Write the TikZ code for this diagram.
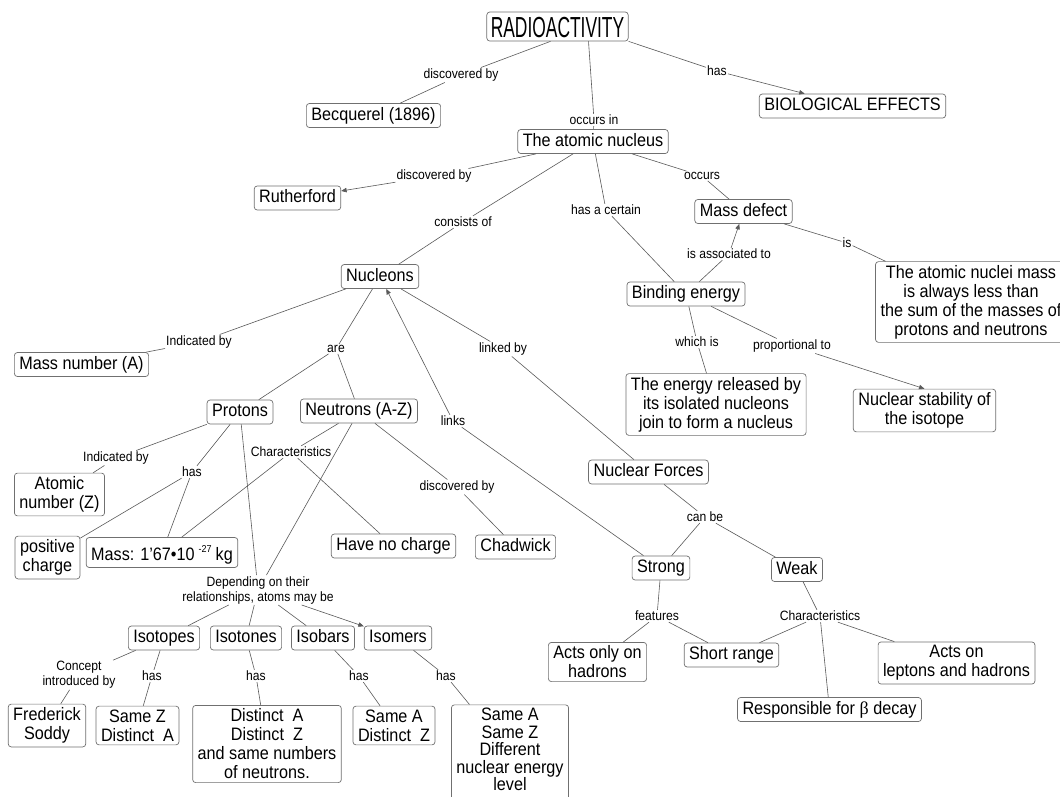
\documentclass[tikz,border=0pt]{standalone}
\usepackage{fontspec}
\setmainfont[FakeStretch=0.9]{Liberation Sans}
\newfontfamily\titlefont[FakeStretch=0.6]{Liberation Sans}
\newfontfamily\greekfont{Liberation Serif}
\usetikzlibrary{arrows.meta}
\definecolor{conceptgray}{HTML}{707070}
\definecolor{linkgray}{HTML}{5A5A5A}
\begin{document}
\begin{tikzpicture}[x=1pt,y=-1pt,
  concept/.style={draw=conceptgray, line width=0.7pt, rounded corners=3pt, fill=white,
    inner xsep=5pt, inner ysep=3.5pt, align=center, font=\fontsize{18}{19}\selectfont},
  oneline/.style={concept, text height=13pt, text depth=4pt},
  maintitle/.style={concept, inner xsep=4pt, inner ysep=4pt, text height=21pt, text depth=0pt,
    font=\titlefont\fontsize{29}{29}\selectfont},
  linkword/.style={inner sep=1pt, align=center, font=\fontsize{13.5}{15}\selectfont},
  link/.style={draw=linkgray, line width=0.6pt},
  tip/.style={-{Triangle[length=5.5pt,width=4.5pt]}}
]
\fill[white] (0,0) rectangle (1060,796);
\useasboundingbox (0,0) rectangle (1060,796);

% concepts
\node[maintitle] (radio) at (557.5,26.5) {RADIOACTIVITY};
\node[oneline] (becq) at (373.5,115.5) {Becquerel (1896)};
\node[oneline] (bio) at (852.5,106) {BIOLOGICAL EFFECTS};
\node[oneline] (nucleus) at (593,141.5) {The atomic nucleus};
\node[oneline] (ruth) at (297.5,198) {Rutherford};
\node[oneline] (massdef) at (743.5,211.5) {Mass defect};
\node[oneline] (nucleons) at (380,276.5) {Nucleons};
\node[oneline] (binding) at (686,294) {Binding energy};
\node[concept] (massless) at (971,302) {The atomic nuclei mass\\is always less than\\the sum of the masses of\\protons and neutrons};
\node[oneline] (massnum) at (81.5,364.5) {Mass number (A)};
\node[oneline] (protons) at (240,412) {Protons};
\node[oneline] (neutrons) at (359,411) {Neutrons (A-Z)};
\node[concept] (released) at (716,404.5) {The energy released by\\its isolated nucleons\\join to form a nucleus};
\node[concept] (stability) at (924.5,410.5) {Nuclear stability of\\the isotope};
\node[concept] (atomicnum) at (59.5,494.5) {Atomic\\number (Z)};
\node[oneline] (forces) at (648.5,472) {Nuclear Forces};
\node[concept] (positive) at (47.5,557.5) {positive\\charge};
\node[concept, text height=19pt, text depth=4pt] (mass) at (162,552.5)
  {Mass: 1’67•10\hspace{4pt}\raisebox{8pt}{\fontsize{10}{10}\selectfont -27}\hspace{4pt}kg};
\node[oneline] (nocharge) at (393.5,546) {Have no charge};
\node[oneline] (chadwick) at (515.5,547) {Chadwick};
\node[oneline] (strong) at (661,568) {Strong};
\node[oneline] (weak) at (797,569.5) {Weak};
\node[oneline] (isotopes) at (164,638) {Isotopes};
\node[oneline] (isotones) at (246,638) {Isotones};
\node[oneline] (isobars) at (323,638) {Isobars};
\node[oneline] (isomers) at (398,638) {Isomers};
\node[concept] (hadrons) at (597.5,662) {Acts only on\\hadrons};
\node[oneline] (short) at (731.5,655) {Short range};
\node[concept] (leptons) at (956.5,663) {Acts on\\leptons and hadrons};
\node[oneline] (beta) at (829.5,709.5) {Responsible for {\greekfont β} decay};
\node[concept] (soddy) at (47,725.5) {Frederick\\Soddy};
\node[concept] (samez) at (137.5,725.5) {Same Z\\Distinct\ \ A};
\node[concept] (distinct) at (267,744) {Distinct\ \ A\\Distinct\ \ Z\\and same numbers\\of neutrons.};
\node[concept] (samea) at (394,725.5) {Same A\\Distinct\ \ Z};
\node[concept, font=\fontsize{18}{17.5}\selectfont, anchor=north] (isomerbox) at (510,704.5)
  {Same A\\Same Z\\Different\\nuclear energy\\level\rule[-8pt]{0pt}{8pt}};

% linking phrases
\node[linkword] (l1) at (461,75) {discovered by};
\node[linkword] (l2) at (594,120) {occurs in};
\node[linkword] (l3) at (717,71) {has};
\node[linkword] (l4) at (434,176) {discovered by};
\node[linkword] (l5) at (463,222) {consists of};
\node[linkword] (l6) at (606,210) {has a certain};
\node[linkword] (l7) at (702,176) {occurs};
\node[linkword] (l8) at (729,254) {is associated to};
\node[linkword] (l9) at (847,243) {is};
\node[linkword] (l10) at (697,342) {which is};
\node[linkword] (l11) at (792,346) {proportional to};
\node[linkword] (l12) at (199,342) {Indicated by};
\node[linkword] (l13) at (336,349) {are};
\node[linkword] (l14) at (453,421) {links};
\node[linkword] (l15) at (503,349) {linked by};
\node[linkword] (l16) at (116,458) {Indicated by};
\node[linkword] (l17) at (192,472) {has};
\node[linkword] (l18) at (291,452) {Characteristics};
\node[linkword] (l19) at (457,487) {discovered by};
\node[linkword] (l20) at (258,590) {Depending on their\\relationships, atoms may be};
\node[linkword] (l21) at (79,675) {Concept\\introduced by};
\node[linkword] (l22) at (152,676) {has};
\node[linkword] (l23) at (256,676) {has};
\node[linkword] (l24) at (359,676) {has};
\node[linkword] (l25) at (446,676) {has};
\node[linkword] (l26) at (705,517) {can be};
\node[linkword] (l27) at (657,616) {features};
\node[linkword] (l28) at (820,616) {Characteristics};

% connectors
\draw[link] ([xshift=-7pt]radio.south) -- (l1) -- (becq);
\draw[link] ([xshift=31pt]radio.south) -- (l2) -- (nucleus);
\draw[link,tip] (radio.south east) -- (l3) -- (bio);
\draw[link,tip] (nucleus) -- (l4) -- (ruth);
\draw[link] (nucleus) -- (l5) -- (nucleons);
\draw[link] (nucleus) -- (l6) -- (binding);
\draw[link] (nucleus) -- (l7) -- (massdef);
\draw[link,tip] (binding) -- (l8) -- (massdef);
\draw[link] (massdef) -- (l9) -- (massless);
\draw[link] (binding) -- (l10) -- (released);
\draw[link,tip] (binding) -- (l11) -- (stability.north);
\draw[link] (nucleons) -- (l12) -- (massnum);
\draw[link] (nucleons) -- (l13) -- (protons);
\draw[link] (l13) -- (neutrons);
\draw[link,tip] (strong) -- (l14) -- (nucleons);
\draw[link] (nucleons) -- (l15) -- (forces);
\draw[link] (protons) -- (l16) -- (atomicnum);
\draw[link] (protons) -- (l17) -- (positive);
\draw[link] (l17) -- (mass);
\draw[link] (neutrons) -- (l18) -- (mass);
\draw[link] (l18) -- (nocharge);
\draw[link] (neutrons) -- (l19) -- (chadwick);
\draw[link] (protons) -- (l20);
\draw[link] (neutrons) -- (l20);
\draw[link] (l20) -- (isotopes);
\draw[link] (l20) -- (isotones);
\draw[link] (l20) -- (isobars);
\draw[link,tip] (l20) -- (isomers);
\draw[link] (isotopes) -- (l21) -- (soddy);
\draw[link] (isotopes) -- (l22) -- (samez);
\draw[link] (isotones) -- (l23) -- (distinct);
\draw[link] (isobars) -- (l24) -- (samea);
\draw[link] (isomers) -- (l25) -- (isomerbox);
\draw[link] (forces) -- (l26) -- (strong);
\draw[link] (l26) -- (weak);
\draw[link] (strong) -- (l27) -- (hadrons);
\draw[link] (l27) -- (short);
\draw[link] (weak) -- (l28) -- (short);
\draw[link] (l28) -- (leptons);
\draw[link] (l28) -- (beta);
\end{tikzpicture}
\end{document}
